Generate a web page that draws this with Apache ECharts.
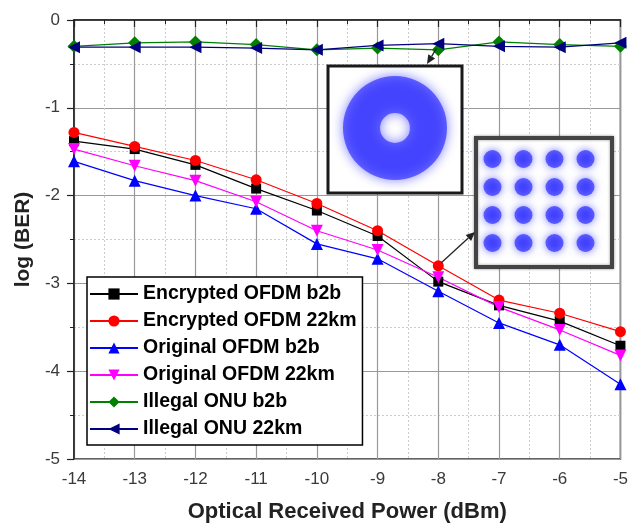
<!DOCTYPE html>
<html>
<head>
<meta charset="utf-8">
<script src="https://cdn.jsdelivr.net/npm/echarts@6/dist/echarts.min.js"></script>
<style>
  html, body { margin: 0; padding: 0; background: #fff; }
  #main { width: 631px; height: 528px; }
</style>
</head>
<body>
<div id="main"></div>
<script>
// 数据
var power = [-14, -13, -12, -11, -10, -9, -8, -7, -6, -5];
var encB2b = [-1.38, -1.47, -1.65, -1.92, -2.17, -2.46, -2.98, -3.25, -3.43, -3.71];
var enc22 = [-1.28, -1.44, -1.60, -1.82, -2.09, -2.40, -2.80, -3.19, -3.34, -3.55];
var oriB2b = [-1.61, -1.83, -2.00, -2.15, -2.55, -2.72, -3.09, -3.45, -3.70, -4.15];
var ori22 = [-1.47, -1.66, -1.83, -2.07, -2.40, -2.62, -2.93, -3.27, -3.53, -3.82];
var illB2b = [-0.30, -0.26, -0.25, -0.28, -0.34, -0.32, -0.34, -0.25, -0.28, -0.30];
var ill22 = [-0.31, -0.31, -0.31, -0.32, -0.34, -0.29, -0.27, -0.30, -0.31, -0.26];
var qamLevels = [-3, -1, 1, 3];

var names = ['Encrypted OFDM b2b', 'Encrypted OFDM 22km', 'Original OFDM b2b',
  'Original OFDM 22km', 'Illegal ONU b2b', 'Illegal ONU 22km'];

function pairs(ys) {
  return power.map(function (x, i) { return [x, ys[i]]; });
}

var qamPoints = [];
qamLevels.forEach(function (i) {
  qamLevels.forEach(function (q) { qamPoints.push([i, q]); });
});

var myChart = echarts.init(document.getElementById('main'));

function lineSeries(name, ys, color, symbol, size, rotate) {
  return {
    name: name,
    type: 'line',
    xAxisIndex: 0,
    yAxisIndex: 0,
    data: pairs(ys),
    symbol: symbol,
    symbolSize: size,
    symbolRotate: rotate || 0,
    lineStyle: { color: color, width: 1.2 },
    itemStyle: { color: color },
    z: 3
  };
}

var font = '"Liberation Sans", Arial, sans-serif';

var option = {
  animation: false,
  backgroundColor: '#fff',
  grid: [
    { left: 74, right: 8, top: 20, bottom: 67, show: true, borderColor: '#333', borderWidth: 1.5 },
    { left: 477, top: 145, width: 124, height: 112 }
  ],
  legend: {
    orient: 'vertical',
    left: 87,
    top: 277,
    padding: [7, 6, 6, 2],
    itemWidth: 48,
    itemHeight: 14,
    itemGap: 7,
    backgroundColor: '#fff',
    borderColor: '#000',
    borderWidth: 1.5,
    borderRadius: 0,
    data: names,
    textStyle: { fontFamily: font, fontSize: 19.5, fontWeight: 'bold', color: '#000' },
    z: 10
  },
  xAxis: [{
    type: 'value',
    gridIndex: 0,
    min: -14,
    max: -5,
    interval: 1,
    name: 'Optical Received Power (dBm)',
    nameLocation: 'middle',
    nameGap: 42,
    nameTextStyle: { fontFamily: font, fontSize: 22, fontWeight: 'bold', color: '#222' },
    axisLine: { lineStyle: { color: '#222', width: 1.5 } },
    axisTick: { length: 7, lineStyle: { color: '#222', width: 1.2 } },
    minorTick: { show: true, splitNumber: 2, length: 4, lineStyle: { color: '#222' } },
    axisLabel: { fontFamily: font, fontSize: 17, color: '#3a3a3a', margin: 12 },
    splitLine: { lineStyle: { color: '#999', width: 1.2 } },
    minorSplitLine: { show: true, lineStyle: { color: '#ccc', type: [2, 2] } }
  }, {
    type: 'value', gridIndex: 1, min: -4, max: 4, show: false
  }],
  yAxis: [{
    type: 'value',
    gridIndex: 0,
    min: -5,
    max: 0,
    interval: 1,
    name: 'log (BER)',
    nameLocation: 'middle',
    nameGap: 38,
    nameTextStyle: { fontFamily: font, fontSize: 21, fontWeight: 'bold', color: '#222' },
    axisLine: { lineStyle: { color: '#222', width: 1.5 } },
    axisTick: { length: 7, lineStyle: { color: '#222', width: 1.2 } },
    minorTick: { show: true, splitNumber: 2, length: 4, lineStyle: { color: '#222' } },
    axisLabel: { fontFamily: font, fontSize: 17, color: '#3a3a3a', margin: 14 },
    splitLine: { lineStyle: { color: '#999', width: 1.2 } },
    minorSplitLine: { show: true, lineStyle: { color: '#ccc', type: [2, 2] } }
  }, {
    type: 'value', gridIndex: 1, min: -4, max: 4, show: false
  }],
  series: [
    lineSeries(names[0], encB2b, '#000000', 'rect', 10),
    lineSeries(names[1], enc22, '#ff0000', 'circle', 11),
    lineSeries(names[2], oriB2b, '#0000ff', 'triangle', 12),
    lineSeries(names[3], ori22, '#ff00ff', 'triangle', 12, 180),
    lineSeries(names[4], illB2b, '#008000', 'diamond', 13),
    lineSeries(names[5], ill22, '#000080', 'triangle', 12, 90),
    {
      // 16QAM 星座图
      name: '16QAM',
      type: 'scatter',
      xAxisIndex: 1,
      yAxisIndex: 1,
      data: qamPoints,
      symbol: 'circle',
      symbolSize: 18,
      itemStyle: { color: 'rgba(20,20,255,0.75)', shadowBlur: 8, shadowColor: 'rgba(0,0,255,0.9)' },
      z: 60
    }
  ]
};

myChart.setOption(option);

// 插图边框和箭头
function arrow(from, to) {
  var dx = to[0] - from[0], dy = to[1] - from[1];
  var len = Math.sqrt(dx * dx + dy * dy);
  var ux = dx / len, uy = dy / len;
  var hl = 9, hw = 4;
  var bx = to[0] - ux * hl, by = to[1] - uy * hl;
  return [{
    type: 'line', z: 50,
    shape: { x1: from[0], y1: from[1], x2: bx, y2: by },
    style: { stroke: '#222', lineWidth: 1.3 }
  }, {
    type: 'polygon', z: 50,
    shape: { points: [to, [bx - uy * hw, by + ux * hw], [bx + uy * hw, by - ux * hw]] },
    style: { fill: '#222' }
  }];
}

var pNavy = myChart.convertToPixel({ seriesIndex: 5 }, [power[6], ill22[6]]);
var pRed = myChart.convertToPixel({ seriesIndex: 1 }, [power[6], enc22[6]]);

var graphics = [
  { type: 'rect', z: 40, shape: { x: 328, y: 66, width: 134, height: 127 },
    style: { fill: '#fff', stroke: '#1a1a1a', lineWidth: 3 } },
  { type: 'ring', z: 41, shape: { cx: 395, cy: 128, r: 52, r0: 15 },
    style: { fill: 'rgba(30,30,255,0.62)', shadowBlur: 12, shadowColor: 'rgba(0,0,255,0.8)' } },
  { type: 'rect', z: 40, shape: { x: 476, y: 138, width: 136, height: 129 },
    style: { fill: '#fff', stroke: '#444', lineWidth: 4, shadowBlur: 3, shadowColor: 'rgba(0,0,0,0.4)' } }
];
graphics = graphics.concat(arrow([pNavy[0] - 2, pNavy[1] + 5], [427, 64]));
graphics = graphics.concat(arrow([pRed[0] + 3, pRed[1] - 3], [475, 232]));

myChart.setOption({ graphic: graphics });
</script>
</body>
</html>
